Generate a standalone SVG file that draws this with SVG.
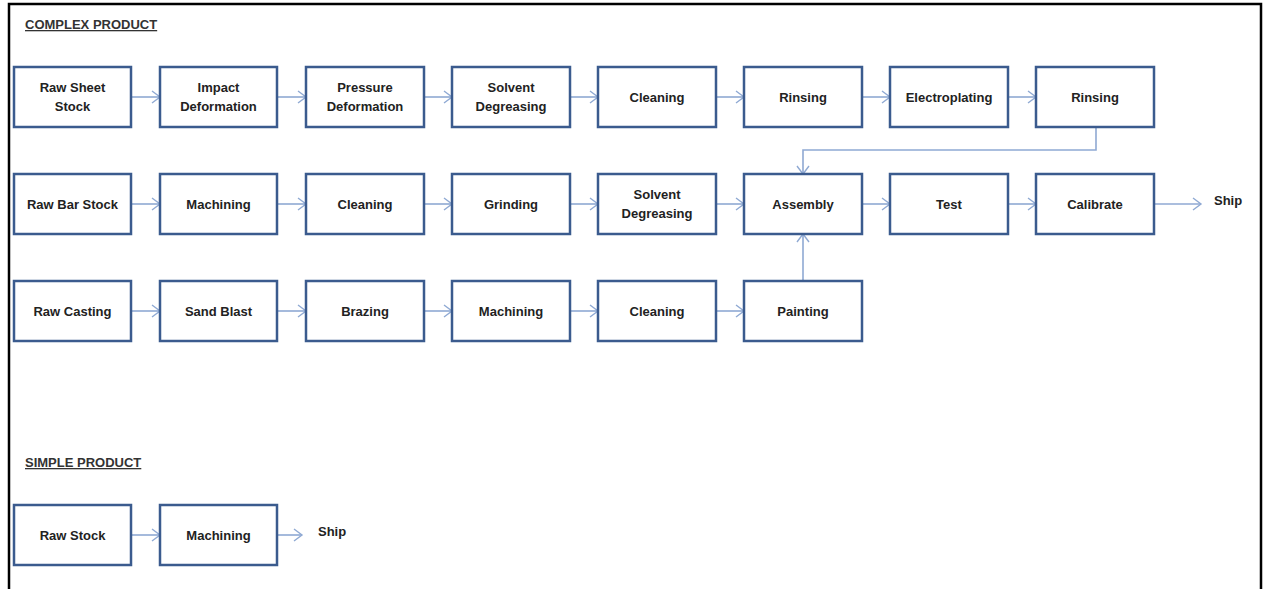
<svg xmlns="http://www.w3.org/2000/svg" width="1264" height="589" viewBox="0 0 1264 589">
<style>
.box{fill:#fff;stroke:#3b5b8e;stroke-width:2.5}
.t{font-family:"Liberation Sans",Arial,sans-serif;font-size:13px;font-weight:bold;fill:#222;text-anchor:middle}
.h{font-family:"Liberation Sans",Arial,sans-serif;font-size:13px;font-weight:bold;fill:#333;text-decoration:underline}
.c{fill:none;stroke:#8fa9d3;stroke-width:1.6}
.s{font-family:"Liberation Sans",Arial,sans-serif;font-size:13px;font-weight:bold;fill:#222}
</style>
<defs>
<marker id="ah" markerUnits="userSpaceOnUse" markerWidth="12" markerHeight="14" refX="9" refY="7" orient="auto">
<path d="M1,1 L9,7 L1,13" fill="none" stroke="#8fa9d3" stroke-width="1.4"/>
</marker>
</defs>
<rect x="0" y="0" width="1264" height="589" fill="#fff"/>
<path d="M9,595 L9,4 L1261,4 L1261,595" fill="none" stroke="#000" stroke-width="2.5"/>
<text class="h" x="25" y="29">COMPLEX PRODUCT</text>
<text class="h" x="25" y="467">SIMPLE PRODUCT</text>

<g id="connectors">
<path class="c" marker-end="url(#ah)" d="M131,97 H160"/>
<path class="c" marker-end="url(#ah)" d="M277,97 H306"/>
<path class="c" marker-end="url(#ah)" d="M424,97 H452"/>
<path class="c" marker-end="url(#ah)" d="M570,97 H598"/>
<path class="c" marker-end="url(#ah)" d="M716,97 H744"/>
<path class="c" marker-end="url(#ah)" d="M862,97 H890"/>
<path class="c" marker-end="url(#ah)" d="M1008,97 H1036"/>
<path class="c" marker-end="url(#ah)" d="M1096,127 V150 H803 V174"/>
<path class="c" marker-end="url(#ah)" d="M131,204 H160"/>
<path class="c" marker-end="url(#ah)" d="M277,204 H306"/>
<path class="c" marker-end="url(#ah)" d="M424,204 H452"/>
<path class="c" marker-end="url(#ah)" d="M570,204 H598"/>
<path class="c" marker-end="url(#ah)" d="M716,204 H744"/>
<path class="c" marker-end="url(#ah)" d="M862,204 H890"/>
<path class="c" marker-end="url(#ah)" d="M1008,204 H1036"/>
<path class="c" marker-end="url(#ah)" d="M1154,204 H1201"/>
<path class="c" marker-end="url(#ah)" d="M131,311 H160"/>
<path class="c" marker-end="url(#ah)" d="M277,311 H306"/>
<path class="c" marker-end="url(#ah)" d="M424,311 H452"/>
<path class="c" marker-end="url(#ah)" d="M570,311 H598"/>
<path class="c" marker-end="url(#ah)" d="M716,311 H744"/>
<path class="c" marker-end="url(#ah)" d="M803,281 V234"/>
<path class="c" marker-end="url(#ah)" d="M131,535 H160"/>
<path class="c" marker-end="url(#ah)" d="M277,535 H302"/>
</g>

<g id="n-raw-sheet"><rect class="box" x="14" y="67" width="117" height="60"/><text class="t" x="72.5" y="92">Raw Sheet</text><text class="t" x="72.5" y="111">Stock</text></g>
<g id="n-impact"><rect class="box" x="160" y="67" width="117" height="60"/><text class="t" x="218.5" y="92">Impact</text><text class="t" x="218.5" y="111">Deformation</text></g>
<g id="n-pressure"><rect class="box" x="306" y="67" width="118" height="60"/><text class="t" x="365" y="92">Pressure</text><text class="t" x="365" y="111">Deformation</text></g>
<g id="n-solvent1"><rect class="box" x="452" y="67" width="118" height="60"/><text class="t" x="511" y="92">Solvent</text><text class="t" x="511" y="111">Degreasing</text></g>
<g id="n-cleaning1"><rect class="box" x="598" y="67" width="118" height="60"/><text class="t" x="657" y="102">Cleaning</text></g>
<g id="n-rinsing1"><rect class="box" x="744" y="67" width="118" height="60"/><text class="t" x="803" y="102">Rinsing</text></g>
<g id="n-electro"><rect class="box" x="890" y="67" width="118" height="60"/><text class="t" x="949" y="102">Electroplating</text></g>
<g id="n-rinsing2"><rect class="box" x="1036" y="67" width="118" height="60"/><text class="t" x="1095" y="102">Rinsing</text></g>

<g id="n-raw-bar"><rect class="box" x="14" y="174" width="117" height="60"/><text class="t" x="72.5" y="209">Raw Bar Stock</text></g>
<g id="n-machining1"><rect class="box" x="160" y="174" width="117" height="60"/><text class="t" x="218.5" y="209">Machining</text></g>
<g id="n-cleaning2"><rect class="box" x="306" y="174" width="118" height="60"/><text class="t" x="365" y="209">Cleaning</text></g>
<g id="n-grinding"><rect class="box" x="452" y="174" width="118" height="60"/><text class="t" x="511" y="209">Grinding</text></g>
<g id="n-solvent2"><rect class="box" x="598" y="174" width="118" height="60"/><text class="t" x="657" y="199">Solvent</text><text class="t" x="657" y="218">Degreasing</text></g>
<g id="n-assembly"><rect class="box" x="744" y="174" width="118" height="60"/><text class="t" x="803" y="209">Assembly</text></g>
<g id="n-test"><rect class="box" x="890" y="174" width="118" height="60"/><text class="t" x="949" y="209">Test</text></g>
<g id="n-calibrate"><rect class="box" x="1036" y="174" width="118" height="60"/><text class="t" x="1095" y="209">Calibrate</text></g>
<g id="n-ship1"><text class="s" x="1214" y="205">Ship</text></g>

<g id="n-raw-casting"><rect class="box" x="14" y="281" width="117" height="60"/><text class="t" x="72.5" y="316">Raw Casting</text></g>
<g id="n-sandblast"><rect class="box" x="160" y="281" width="117" height="60"/><text class="t" x="218.5" y="316">Sand Blast</text></g>
<g id="n-brazing"><rect class="box" x="306" y="281" width="118" height="60"/><text class="t" x="365" y="316">Brazing</text></g>
<g id="n-machining2"><rect class="box" x="452" y="281" width="118" height="60"/><text class="t" x="511" y="316">Machining</text></g>
<g id="n-cleaning3"><rect class="box" x="598" y="281" width="118" height="60"/><text class="t" x="657" y="316">Cleaning</text></g>
<g id="n-painting"><rect class="box" x="744" y="281" width="118" height="60"/><text class="t" x="803" y="316">Painting</text></g>

<g id="n-raw-stock"><rect class="box" x="14" y="505" width="117" height="60"/><text class="t" x="72.5" y="540">Raw Stock</text></g>
<g id="n-machining3"><rect class="box" x="160" y="505" width="117" height="60"/><text class="t" x="218.5" y="540">Machining</text></g>
<g id="n-ship2"><text class="s" x="318" y="536">Ship</text></g>
</svg>
